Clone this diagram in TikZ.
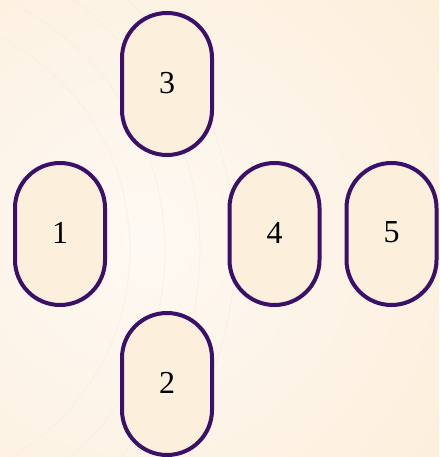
\documentclass[tikz,border=0pt]{standalone}
\usepackage{fontspec}
\setmainfont{Liberation Serif}
\definecolor{bord}{HTML}{3A1068}
\definecolor{cardfill}{HTML}{FCF0DD}
\definecolor{bginner}{HTML}{FEF9F3}
\definecolor{bgouter}{HTML}{FCEEDA}
\definecolor{arcc}{HTML}{F7ECE0}
\begin{document}
\begin{tikzpicture}[x=1pt,y=-1pt,
  card/.style={draw=bord, line width=4pt, fill=cardfill, rectangle,
    rounded corners=45pt, minimum width=90pt, minimum height=142pt,
    inner sep=0pt, font=\fontsize{32}{32}\selectfont, text=black}]
\useasboundingbox (0,0) rectangle (439,457);
\begin{scope}
\clip (0,0) rectangle (439,457);
\shade[inner color=bginner, outer color=bgouter] (140,240) circle (400pt);
\foreach \r in {240,275,310,345}
  \draw[arcc, line width=0.8pt, opacity=0.7] (-110,250) circle (\r pt);
\end{scope}
\node[card] (n3) at (167,84) {\raisebox{3pt}{3}};
\node[card] (n1) at (60,234) {\raisebox{3pt}{1}};
\node[card] (n4) at (274.5,234) {\raisebox{3pt}{4}};
\node[card] (n5) at (391.5,234) {\raisebox{3pt}{5}};
\node[card] (n2) at (167,384) {\raisebox{3pt}{2}};
\end{tikzpicture}
\end{document}
